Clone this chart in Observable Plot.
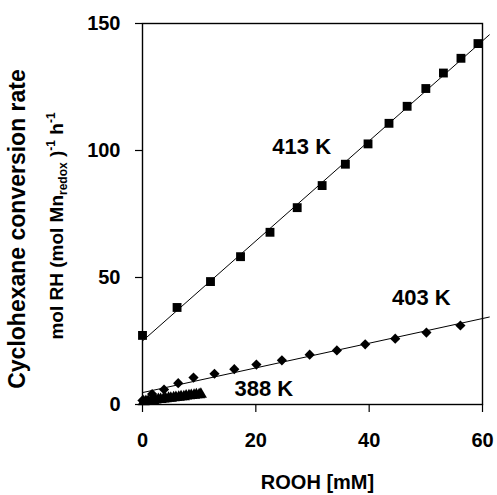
<!DOCTYPE html>
<html><head><meta charset="utf-8">
<script src="https://cdn.jsdelivr.net/npm/d3@7"></script>
<script src="https://cdn.jsdelivr.net/npm/@observablehq/plot@0.6"></script>
<style>
body{margin:0;background:#fff}
svg{display:block}
</style>
</head><body><div id="chart"></div>
<script>
// 413 K (squares)
const rooh413 = [0, 6.1, 12.0, 17.3, 22.5, 27.3, 31.7, 35.8, 39.8, 43.5, 46.7, 50.0, 53.1, 56.2, 59.2];
const rate413 = [27.2, 38.2, 48.4, 58.2, 67.8, 77.5, 86.2, 94.6, 102.6, 110.7, 117.4, 124.4, 130.5, 136.3, 142.1];
// 403 K (diamonds)
const rooh403 = [0, 1.7, 3.8, 6.3, 9.0, 12.7, 16.2, 20.1, 24.6, 29.5, 34.3, 39.3, 44.6, 50.1, 56.1];
const rate403 = [1.6, 4.1, 5.9, 8.4, 10.6, 12.1, 13.9, 15.7, 17.4, 19.6, 21.3, 23.7, 25.9, 28.3, 31.1];
// 388 K (triangles)
const rooh388 = [0.2, 0.6, 1.0, 1.5, 1.9, 2.3, 2.8, 3.2, 3.7, 4.1, 4.6, 5.0, 5.5, 5.9, 6.4, 6.8, 7.3, 7.7, 8.2, 8.6, 9.1, 9.5, 10.0, 10.3];
const rate388 = [1.1, 1.2, 1.3, 1.5, 1.6, 1.8, 2.0, 2.0, 2.2, 2.3, 2.5, 2.5, 2.7, 2.8, 2.9, 3.1, 3.1, 3.3, 3.4, 3.5, 3.6, 3.8, 3.8, 4.0];

const seriesNames = ["413 K", "403 K", "388 K"];
const xTicks = [0, 20, 40, 60];
const yTicks = [0, 50, 100, 150];
// extent of the fitted trend lines (ROOH, mM)
const fitExtent413 = [0, 61.2];
const fitExtent403 = [0, 61.2];
const fitExtent388 = [0, 10.3];

function rows(xs, ys) { return xs.map((x, i) => ({x, y: ys[i]})); }
function fitLine(xs, ys, ext) {
  const mx = d3.mean(xs), my = d3.mean(ys);
  let sxy = 0, sxx = 0;
  xs.forEach((x, i) => { sxy += (x - mx) * (ys[i] - my); sxx += (x - mx) ** 2; });
  const b = sxy / sxx;
  return ext.map(x => ({x, y: my + b * (x - mx)}));
}

const d413 = rows(rooh413, rate413), d403 = rows(rooh403, rate403), d388 = rows(rooh388, rate388);
const font = "'Liberation Sans', Arial, sans-serif";

const chart = Plot.plot({
  width: 497, height: 495,
  marginLeft: 142, marginRight: 15, marginTop: 23, marginBottom: 91,
  style: {fontFamily: font, fontSize: "20px", fontWeight: "bold", color: "#000", background: "#fff", overflow: "visible"},
  x: {domain: [0, 60]},
  y: {domain: [0, 150]},
  marks: [
    Plot.frame({stroke: "#000", strokeWidth: 1.4}),
    Plot.axisX({ticks: xTicks, tickSize: 8, tickPadding: 20, label: null, fontSize: 20, fontWeight: "bold", stroke: "#000", strokeWidth: 1.2}),
    Plot.axisY({ticks: yTicks, tickSize: 7, tickPadding: 15, label: null, fontSize: 20, fontWeight: "bold", stroke: "#000", strokeWidth: 1.2}),
    Plot.line(fitLine(rooh413, rate413, fitExtent413), {x: "x", y: "y", stroke: "#000", strokeWidth: 1}),
    Plot.line(fitLine(rooh403, rate403, fitExtent403), {x: "x", y: "y", stroke: "#000", strokeWidth: 1}),
    Plot.line(fitLine(rooh388, rate388, fitExtent388), {x: "x", y: "y", stroke: "#000", strokeWidth: 1}),
    Plot.dot(d388, {x: "x", y: "y", symbol: "triangle", r: 4.5, fill: "#000", stroke: "none"}),
    Plot.dot(d403, {x: "x", y: "y", symbol: "diamond2", r: 4.6, fill: "#000", stroke: "none"}),
    Plot.dot(d413, {x: "x", y: "y", symbol: "square", r: 5, fill: "#000", stroke: "none"}),
    Plot.text([seriesNames[0]], {x: 28.1, y: 101.5, text: d => d, fontSize: 22, fontWeight: "bold", fill: "#000"}),
    Plot.text([seriesNames[1]], {x: 49.2, y: 41.8, text: d => d, fontSize: 22, fontWeight: "bold", fill: "#000"}),
    Plot.text([seriesNames[2]], {x: 21.4, y: 6.3, text: d => d, fontSize: 22, fontWeight: "bold", fill: "#000"}),
    Plot.text(["ROOH [mM]"], {frameAnchor: "bottom", lineAnchor: "middle", dy: 78, dx: 5, text: d => d, fontSize: 20, fontWeight: "bold", fill: "#000"})
  ]
});

// two-line y-axis title with sub/superscripts
const svg = d3.select(chart);
svg.append("text")
  .attr("transform", "translate(25,229) rotate(-90)")
  .attr("text-anchor", "middle")
  .attr("font-family", font).attr("font-weight", "bold").attr("font-size", 23).attr("fill", "#000")
  .text("Cyclohexane conversion rate");
const t2 = svg.append("text")
  .attr("transform", "translate(63,226) rotate(-90)")
  .attr("text-anchor", "middle")
  .attr("font-family", font).attr("font-weight", "bold").attr("font-size", 19).attr("fill", "#000");
t2.append("tspan").text("mol RH (mol Mn");
t2.append("tspan").attr("font-size", 12).attr("dy", 4).text("redox");
t2.append("tspan").attr("dy", -4).text(" )");
t2.append("tspan").attr("font-size", 12).attr("dy", -8).text("-1");
t2.append("tspan").attr("dy", 8).text(" h");
t2.append("tspan").attr("font-size", 12).attr("dy", -8).text("-1");

document.getElementById("chart").appendChild(chart);
</script>
</body></html>
